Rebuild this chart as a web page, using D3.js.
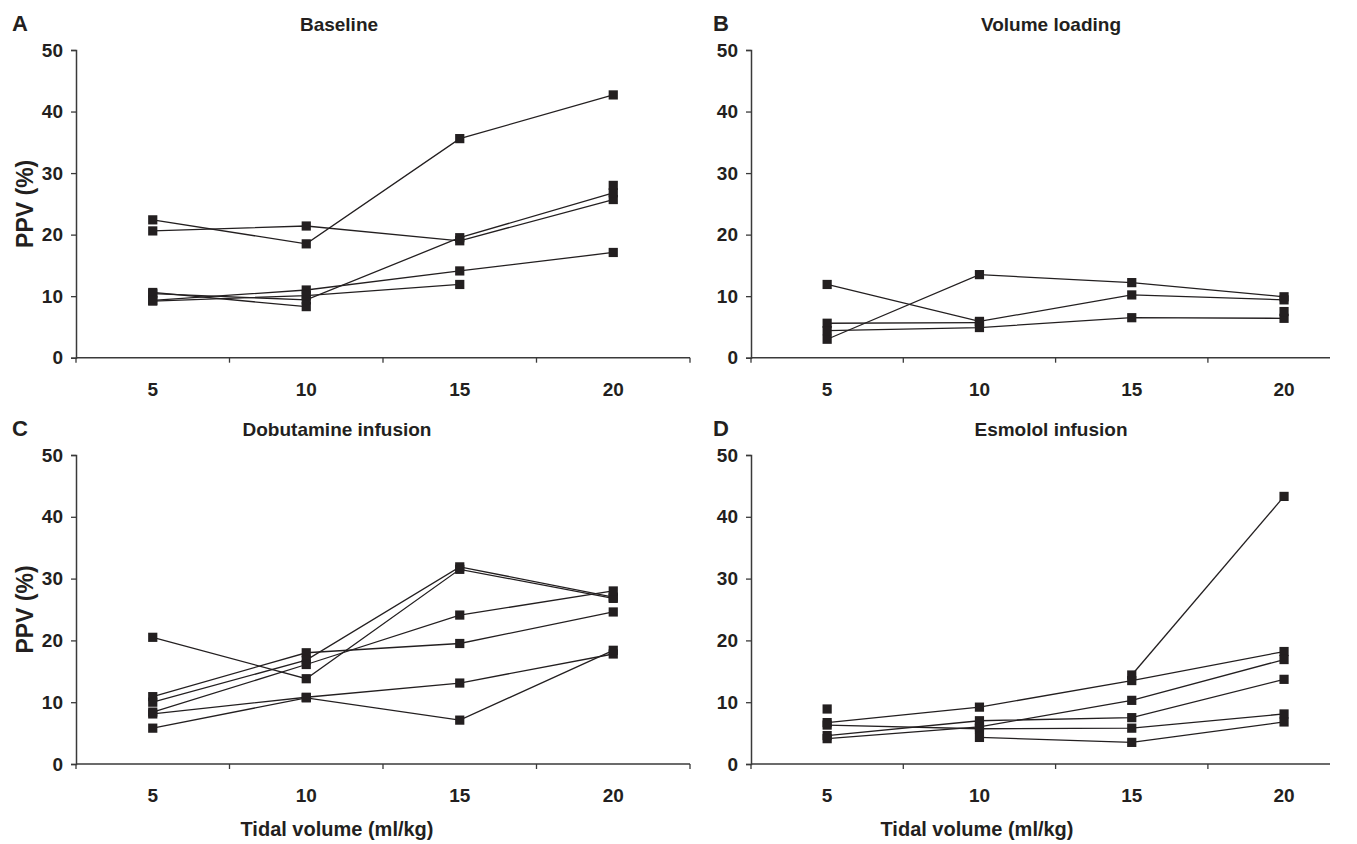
<!DOCTYPE html>
<html><head><meta charset="utf-8">
<script src="https://cdn.jsdelivr.net/npm/d3@7"></script>
<style>
body{margin:0;background:#fff}
svg text{font-family:"Liberation Sans",Arial,sans-serif;font-weight:bold;fill:#231f20}
</style>
</head><body><svg id="c" width="1357" height="844"></svg>
<script>
// ---- data ----
const categories = [5, 10, 15, 20];
const yTicks = [0, 10, 20, 30, 40, 50];
const panelLetters = ["A", "B", "C", "D"];
const panelTitles = ["Baseline", "Volume loading", "Dobutamine infusion", "Esmolol infusion"];
const xAxisTitle = "Tidal volume (ml/kg)";
const yAxisTitle = "PPV (%)";

const baseline = [
  [22.4, 18.5, 35.6, 42.7],
  [20.6, 21.4, 19.0, 25.7],
  [10.6, 8.3, null, null],
  [10.4, 9.4, 19.5, 26.8],
  [9.3, 11.0, 14.1, 17.1],
  [9.2, 10.1, 11.9, null],
  [null, null, null, 28.0]
];
const volumeLoading = [
  [11.9, 5.9, 10.2, 9.4],
  [3.0, 13.5, 12.2, 9.9],
  [5.6, 5.7, null, null],
  [4.4, 4.9, 6.5, 6.4],
  [null, null, null, 7.5]
];
const dobutamine = [
  [20.5, 13.8, 31.5, 26.8],
  [10.9, 18.0, 19.5, 24.6],
  [10.0, 16.8, 31.9, 27.0],
  [8.4, 16.1, 24.1, 28.0],
  [8.1, 10.8, 13.1, 17.8],
  [5.8, 10.7, 7.1, 18.4]
];
const esmolol = [
  [6.7, 9.2, 13.5, 18.2],
  [6.3, 5.7, 5.8, 8.1],
  [4.6, 7.0, 7.5, 13.7],
  [4.1, 6.0, 10.3, 16.9],
  [null, 4.3, 3.5, 6.8],
  [8.9, null, 14.4, 43.3]
];
const panelData = [baseline, volumeLoading, dobutamine, esmolol];

// ---- layout ----
const layout = [
  {left: 76, top: 50, bottom: 357.7, bw: 153.5, axisEnd: 614, title: 339, letter: 12, xTitle: 339, showYTitle: true, showXTitle: false},
  {left: 751, top: 50, bottom: 357.7, bw: 152.3, axisEnd: 579, title: 1051, letter: 713, xTitle: 977, showYTitle: false, showXTitle: false},
  {left: 76, top: 455, bottom: 764, bw: 153.5, axisEnd: 614, title: 337, letter: 12, xTitle: 337, showYTitle: true, showXTitle: true},
  {left: 751, top: 455, bottom: 764, bw: 152.3, axisEnd: 579, title: 1051, letter: 713, xTitle: 977, showYTitle: false, showXTitle: true}
];

const svg = d3.select("#c");
const ink = "#231f20";

layout.forEach((L, i) => {
  const g = svg.append("g").attr("transform", `translate(${L.left},0)`);
  const x = d3.scaleBand().domain(categories).range([0, 4 * L.bw]);
  const y = d3.scaleLinear().domain([0, 50]).range([L.bottom, L.top]);

  // y axis
  const ya = g.append("g").call(d3.axisLeft(y).tickValues(yTicks).tickSize(5).tickPadding(8));
  ya.select(".domain").attr("stroke", "#3a3a3a").attr("stroke-width", 1.5);
  ya.selectAll(".tick line").attr("stroke", "#3a3a3a").attr("stroke-width", 1.3);
  ya.selectAll(".tick text").style("font-size", "19px").attr("fill", ink);

  // x axis: labels at band centres, ticks at band boundaries
  const xa = g.append("g").attr("transform", `translate(0,${L.bottom})`)
    .call(d3.axisBottom(x).tickSize(0).tickPadding(25));
  xa.select(".domain").remove();
  xa.selectAll(".tick text").style("font-size", "19px").attr("fill", ink);
  xa.append("line").attr("x1", 0).attr("x2", L.axisEnd).attr("y1", 0).attr("y2", 0)
    .attr("stroke", "#3a3a3a").attr("stroke-width", 1.5);
  const bounds = categories.map(c => x(c)).concat([x.range()[1]]).filter(v => v <= L.axisEnd);
  xa.selectAll("line.bt").data(bounds).join("line").attr("class", "bt")
    .attr("x1", d => d).attr("x2", d => d).attr("y1", 0).attr("y2", 5)
    .attr("stroke", "#3a3a3a").attr("stroke-width", 1.3);

  // series
  const cx = c => x(c) + x.bandwidth() / 2;
  const line = d3.line().defined(d => d.v != null).x(d => cx(d.c)).y(d => y(d.v));
  const series = panelData[i].map(arr => arr.map((v, k) => ({c: categories[k], v})));
  g.selectAll("path.s").data(series).join("path").attr("class", "s")
    .attr("d", line).attr("fill", "none").attr("stroke", ink).attr("stroke-width", 1.3);
  const pts = series.flat().filter(d => d.v != null);
  g.selectAll("rect.m").data(pts).join("rect").attr("class", "m")
    .attr("x", d => cx(d.c) - 4.6).attr("y", d => y(d.v) - 4.6)
    .attr("width", 9.2).attr("height", 9.2).attr("fill", ink);

  // titles
  svg.append("text").attr("x", L.title).attr("y", L.top - 19).attr("text-anchor", "middle")
    .style("font-size", "19px").text(panelTitles[i]);
  svg.append("text").attr("x", L.letter).attr("y", L.top - 19)
    .style("font-size", "22px").text(panelLetters[i]);
  if (L.showYTitle) {
    svg.append("text").attr("transform", `translate(${L.left - 51},${(L.top + L.bottom) / 2}) rotate(-90)`)
      .attr("text-anchor", "middle").attr("dy", "0.35em").style("font-size", "23px").text(yAxisTitle);
  }
  if (L.showXTitle) {
    svg.append("text").attr("x", L.xTitle).attr("y", L.bottom + 72).attr("text-anchor", "middle")
      .style("font-size", "20px").text(xAxisTitle);
  }
});
</script>
</body></html>
